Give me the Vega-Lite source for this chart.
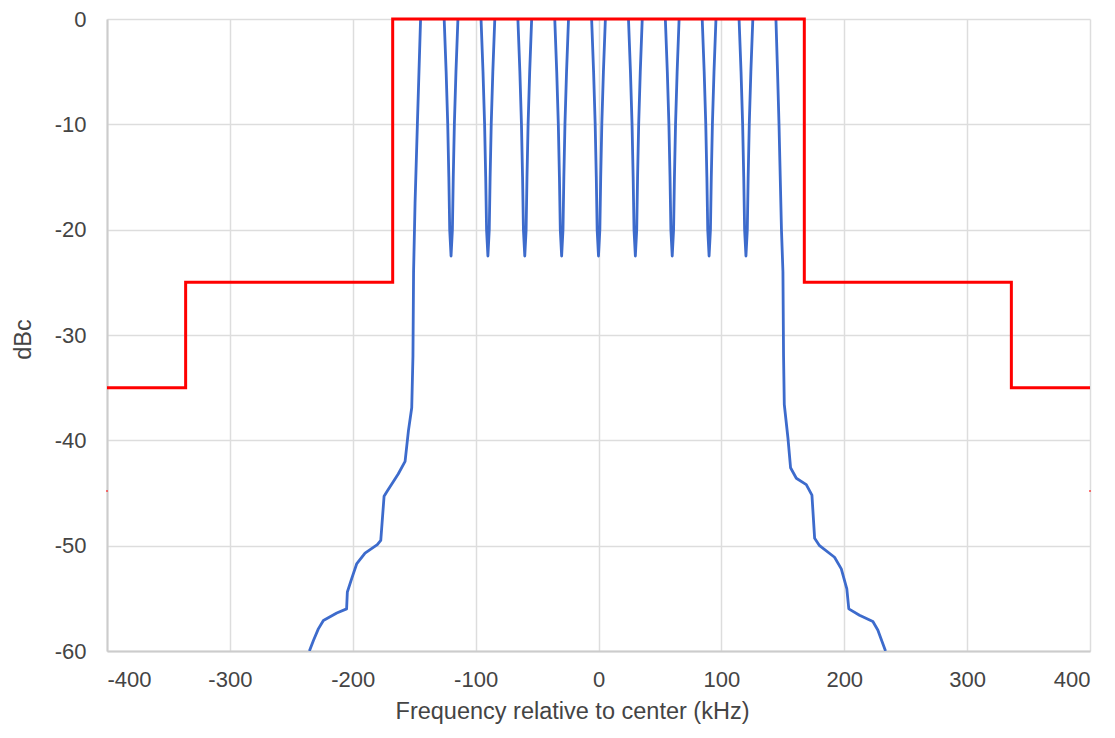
{
  "$schema": "https://vega.github.io/schema/vega-lite/v6.json",
  "autosize": "none",
  "width": 983,
  "height": 632,
  "padding": {"left": 107, "top": 19, "right": 25, "bottom": 87},
  "background": "white",
  "config": {
    "view": {"stroke": null},
    "font": "Liberation Sans",
    "axis": {
      "labelFont": "Liberation Sans",
      "titleFont": "Liberation Sans",
      "labelFontSize": 22,
      "titleFontSize": 23.5,
      "labelColor": "#444444",
      "titleColor": "#444444",
      "titleFontWeight": "normal",
      "ticks": false,
      "gridColor": "#dddddd",
      "gridWidth": 1.5,
      "domainColor": "#cccccc",
      "domainWidth": 2,
      "labelExpr": "replace(datum.label, '\u2212', '-')"
    }
  },
  "datasets": {
    "spectrum": [
      {"f": -235.3, "db": -60}, {"f": -232, "db": -59}, {"f": -228, "db": -57.9}, {"f": -223.9, "db": -57.1},
      {"f": -213, "db": -56.4}, {"f": -205, "db": -56}, {"f": -204.4, "db": -54.4}, {"f": -200.8, "db": -53.1},
      {"f": -196.7, "db": -51.7}, {"f": -190, "db": -50.7}, {"f": -180, "db": -49.9}, {"f": -177.2, "db": -49.5},
      {"f": -174.5, "db": -45.3}, {"f": -172.4, "db": -44.9}, {"f": -163, "db": -43.2}, {"f": -157.4, "db": -42},
      {"f": -154.7, "db": -39.1}, {"f": -152, "db": -36.9}, {"f": -151, "db": -32}, {"f": -150.5, "db": -24},
      {"f": -149.3, "db": -17.5}, {"f": -147.4, "db": -10}, {"f": -146.1, "db": -5}, {"f": -144.8, "db": 0}, {"f": -135, "db": 5},
      {"f": -125.6, "db": 0}, {"f": -124, "db": -5}, {"f": -122.7, "db": -10}, {"f": -121.8, "db": -15}, {"f": -121.1, "db": -20}, {"f": -120, "db": -22.5},
      {"f": -118.9, "db": -20}, {"f": -118.2, "db": -15}, {"f": -117.3, "db": -10}, {"f": -116, "db": -5}, {"f": -114.4, "db": 0}, {"f": -105, "db": 5},
      {"f": -95.6, "db": 0}, {"f": -94, "db": -5}, {"f": -92.7, "db": -10}, {"f": -91.8, "db": -15}, {"f": -91.1, "db": -20}, {"f": -90, "db": -22.5},
      {"f": -88.9, "db": -20}, {"f": -88.2, "db": -15}, {"f": -87.3, "db": -10}, {"f": -86, "db": -5}, {"f": -84.4, "db": 0}, {"f": -75, "db": 5},
      {"f": -65.6, "db": 0}, {"f": -64, "db": -5}, {"f": -62.7, "db": -10}, {"f": -61.8, "db": -15}, {"f": -61.1, "db": -20}, {"f": -60, "db": -22.5},
      {"f": -58.9, "db": -20}, {"f": -58.2, "db": -15}, {"f": -57.3, "db": -10}, {"f": -56, "db": -5}, {"f": -54.4, "db": 0}, {"f": -45, "db": 5},
      {"f": -35.6, "db": 0}, {"f": -34, "db": -5}, {"f": -32.7, "db": -10}, {"f": -31.8, "db": -15}, {"f": -31.1, "db": -20}, {"f": -30, "db": -22.5},
      {"f": -28.9, "db": -20}, {"f": -28.2, "db": -15}, {"f": -27.3, "db": -10}, {"f": -26, "db": -5}, {"f": -24.4, "db": 0}, {"f": -15, "db": 5},
      {"f": -5.6, "db": 0}, {"f": -4, "db": -5}, {"f": -2.7, "db": -10}, {"f": -1.8, "db": -15}, {"f": -1.1, "db": -20}, {"f": 0, "db": -22.5},
      {"f": 1.1, "db": -20}, {"f": 1.8, "db": -15}, {"f": 2.7, "db": -10}, {"f": 4, "db": -5}, {"f": 5.6, "db": 0}, {"f": 15, "db": 5},
      {"f": 24.4, "db": 0}, {"f": 26, "db": -5}, {"f": 27.3, "db": -10}, {"f": 28.2, "db": -15}, {"f": 28.9, "db": -20}, {"f": 30, "db": -22.5},
      {"f": 31.1, "db": -20}, {"f": 31.8, "db": -15}, {"f": 32.7, "db": -10}, {"f": 34, "db": -5}, {"f": 35.6, "db": 0}, {"f": 45, "db": 5},
      {"f": 54.4, "db": 0}, {"f": 56, "db": -5}, {"f": 57.3, "db": -10}, {"f": 58.2, "db": -15}, {"f": 58.9, "db": -20}, {"f": 60, "db": -22.5},
      {"f": 61.1, "db": -20}, {"f": 61.8, "db": -15}, {"f": 62.7, "db": -10}, {"f": 64, "db": -5}, {"f": 65.6, "db": 0}, {"f": 75, "db": 5},
      {"f": 84.4, "db": 0}, {"f": 86, "db": -5}, {"f": 87.3, "db": -10}, {"f": 88.2, "db": -15}, {"f": 88.9, "db": -20}, {"f": 90, "db": -22.5},
      {"f": 91.1, "db": -20}, {"f": 91.8, "db": -15}, {"f": 92.7, "db": -10}, {"f": 94, "db": -5}, {"f": 95.6, "db": 0}, {"f": 105, "db": 5},
      {"f": 114.4, "db": 0}, {"f": 116, "db": -5}, {"f": 117.3, "db": -10}, {"f": 118.2, "db": -15}, {"f": 118.9, "db": -20}, {"f": 120, "db": -22.5},
      {"f": 121.1, "db": -20}, {"f": 121.8, "db": -15}, {"f": 122.7, "db": -10}, {"f": 124, "db": -5}, {"f": 125.6, "db": 0}, {"f": 135, "db": 5},
      {"f": 144.4, "db": 0}, {"f": 145.7, "db": -5}, {"f": 146.9, "db": -10}, {"f": 148.9, "db": -20}, {"f": 150.1, "db": -24},
      {"f": 150.6, "db": -32}, {"f": 151.2, "db": -36.6}, {"f": 154.2, "db": -39.8}, {"f": 156.3, "db": -42.6}, {"f": 161, "db": -43.6},
      {"f": 169.1, "db": -44.2}, {"f": 173.7, "db": -45.2}, {"f": 175.9, "db": -49.3}, {"f": 179.9, "db": -50}, {"f": 192.1, "db": -51.1},
      {"f": 197.6, "db": -52.2}, {"f": 202.1, "db": -54.1}, {"f": 203.7, "db": -56}, {"f": 212.4, "db": -56.6}, {"f": 223.3, "db": -57.2},
      {"f": 227.3, "db": -58}, {"f": 233.6, "db": -60}
    ],
    "mask": [
      {"i": 0, "f": -400, "db": -35}, {"i": 1, "f": -336, "db": -35}, {"i": 2, "f": -336, "db": -25},
      {"i": 3, "f": -167.5, "db": -25}, {"i": 4, "f": -167.5, "db": 0}, {"i": 5, "f": 167.5, "db": 0},
      {"i": 6, "f": 167.5, "db": -25}, {"i": 7, "f": 336, "db": -25}, {"i": 8, "f": 336, "db": -35},
      {"i": 9, "f": 400, "db": -35}
    ],
    "edge": [
      {"f": -400, "db": -44.8}, {"f": 400, "db": -44.8}
    ]
  },
  "encoding": {
    "x": {
      "field": "f", "type": "quantitative",
      "scale": {"domain": [-400, 400], "nice": false},
      "axis": {"values": [-400, -300, -200, -100, 0, 100, 200, 300, 400], "title": "Frequency relative to center (kHz)", "labelPadding": 18, "titlePadding": 9, "titleX": 465, "domain": true}
    },
    "y": {
      "field": "db", "type": "quantitative",
      "scale": {"domain": [-60, 0], "nice": false},
      "axis": {"values": [0, -10, -20, -30, -40, -50, -60], "title": "dBc", "labelPadding": 21, "titlePadding": 19, "titleY": 320, "domain": true}
    }
  },
  "layer": [
    {
      "data": {"name": "spectrum"},
      "mark": {"type": "line", "color": "#3d6bcc", "strokeWidth": 2.8, "clip": true, "strokeJoin": "round"}
    },
    {
      "data": {"name": "mask"},
      "mark": {"type": "line", "color": "#ff0000", "strokeWidth": 3, "strokeJoin": "miter"},
      "encoding": {"order": {"field": "i", "type": "quantitative"}}
    },
    {
      "data": {"name": "edge"},
      "mark": {"type": "point", "filled": true, "color": "#ff2020", "size": 4, "opacity": 0.8}
    }
  ]
}
